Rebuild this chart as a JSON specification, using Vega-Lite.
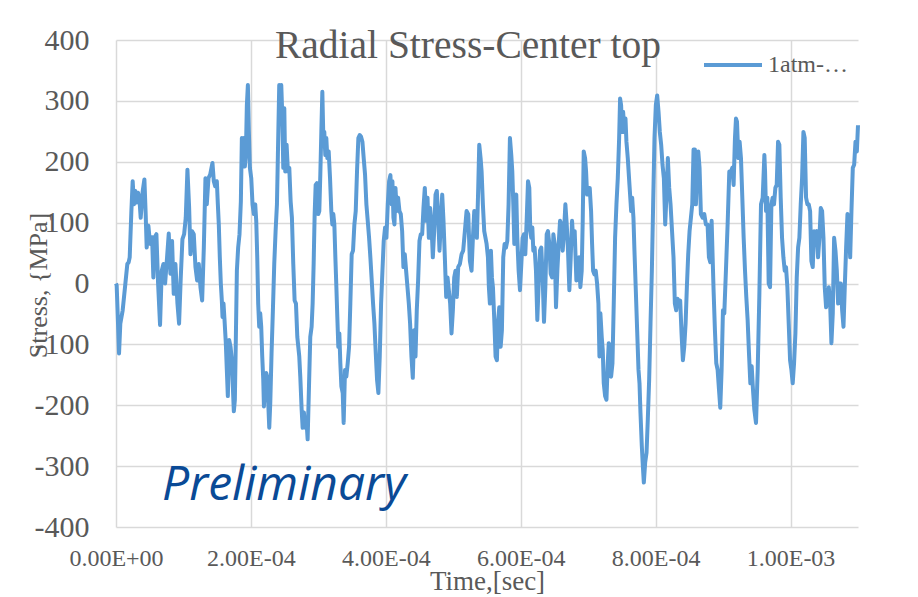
{
"$schema": "https://vega.github.io/schema/vega-lite/v6.json",
"width": 742, "height": 487,
"autosize": {"type": "none"},
"padding": {"left": 116, "top": 40, "right": 60, "bottom": 70},
"background": "white",
"config": {"view": {"stroke": null}, "font": "Liberation Serif"},
"title": {"text": "Radial Stress-Center top", "font": "Liberation Serif", "fontSize": 39.5, "fontWeight": "normal", "color": "#595959", "anchor": "middle", "frame": "group", "dx": -19, "offset": -72, "baseline": "alphabetic"},
"encoding": {
  "x": {"field": "t", "type": "quantitative", "scale": {"domain": [0, 0.0011], "nice": false, "zero": false},
    "axis": {"title": "Time,[sec]", "values": [0, 0.0002, 0.0004, 0.0006, 0.0008, 0.001],
      "labelExpr": "datum.value == 0 ? '0.00E+00' : datum.value < 0.00095 ? format(datum.value * 10000, '.2f') + 'E-04' : format(datum.value * 1000, '.2f') + 'E-03'",
      "grid": true, "gridColor": "#d9d9d9", "gridWidth": 1.5, "domain": false, "ticks": false, "tickSize": 0,
      "labelFont": "Liberation Serif", "labelFontSize": 24, "labelColor": "#595959", "labelPadding": 19, "labelFlush": false, "labelOverlap": false,
      "titleFont": "Liberation Serif", "titleFontSize": 27, "titleFontWeight": "normal", "titleColor": "#595959", "titleY": 62, "titleBaseline": "alphabetic"}},
  "y": {"field": "s", "type": "quantitative", "scale": {"domain": [-400, 400], "nice": false, "zero": false},
    "axis": {"title": "Stress, {MPa]", "values": [-400, -300, -200, -100, 0, 100, 200, 300, 400],
      "labelExpr": "datum.value < 0 ? '-' + abs(datum.value) : '' + datum.value",
      "grid": true, "gridColor": "#d9d9d9", "gridWidth": 1.5, "domain": false, "ticks": false, "tickSize": 0,
      "labelFont": "Liberation Serif", "labelFontSize": 30, "labelColor": "#595959", "labelPadding": 27, "labelFlush": false, "labelOverlap": false,
      "titleFont": "Liberation Serif", "titleFontSize": 26, "titleFontWeight": "normal", "titleColor": "#595959", "titleX": -78, "titleY": 245, "titleAlign": "center", "titleBaseline": "middle"}}
},
"layer": [
{
"data": {"values": [
{"t":0,"s":0},{"t":1.0e-6,"s":-3},{"t":3.0e-6,"s":-66},{"t":4.5e-6,"s":-115},{"t":6.4e-6,"s":-66},{"t":9.9e-6,"s":-44},{"t":13.9e-6,"s":0},{"t":16.8e-6,"s":32},{"t":18.8e-6,"s":35},{"t":20.3e-6,"s":43},{"t":22.8e-6,"s":119},{"t":24.7e-6,"s":168},{"t":26.7e-6,"s":130},{"t":28.7e-6,"s":152},{"t":30.7e-6,"s":133},{"t":32.7e-6,"s":149},{"t":34.6e-6,"s":141},{"t":36.6e-6,"s":108},{"t":39.6e-6,"s":152},{"t":42.1e-6,"s":171},{"t":44.0e-6,"s":114},{"t":45.5e-6,"s":59},{"t":48.0e-6,"s":95},{"t":50.5e-6,"s":65},{"t":53.5e-6,"s":76},{"t":55.4e-6,"s":10},{"t":57.4e-6,"s":76},{"t":59.9e-6,"s":81},{"t":62.4e-6,"s":0},{"t":65.3e-6,"s":-68},{"t":67.8e-6,"s":21},{"t":70.3e-6,"s":32},{"t":72.8e-6,"s":0},{"t":75.7e-6,"s":43},{"t":78.2e-6,"s":82},{"t":80.7e-6,"s":16},{"t":83.1e-6,"s":70},{"t":85.6e-6,"s":-17},{"t":88.1e-6,"s":32},{"t":91.1e-6,"s":-33},{"t":93.5e-6,"s":-66},{"t":96.0e-6,"s":10},{"t":98.5e-6,"s":73},{"t":101.0e-6,"s":81},{"t":103.4e-6,"s":108},{"t":105.9e-6,"s":187},{"t":108.4e-6,"s":125},{"t":110.4e-6,"s":48},{"t":112.8e-6,"s":86},{"t":115.3e-6,"s":81},{"t":117.8e-6,"s":27},{"t":120.3e-6,"s":5},{"t":122.7e-6,"s":32},{"t":125.2e-6,"s":-6},{"t":127.7e-6,"s":-28},{"t":130.2e-6,"s":59},{"t":132.6e-6,"s":173},
{"t":134.6e-6,"s":130},{"t":137.1e-6,"s":173},{"t":139.6e-6,"s":179},{"t":143.0e-6,"s":198},{"t":145.0e-6,"s":168},{"t":147.0e-6,"s":160},{"t":149.5e-6,"s":168},{"t":151.0e-6,"s":130},{"t":152.4e-6,"s":97},{"t":153.9e-6,"s":43},{"t":155.4e-6,"s":0},{"t":156.9e-6,"s":-28},{"t":157.9e-6,"s":-55},{"t":159.4e-6,"s":-33},{"t":160.9e-6,"s":-60},{"t":162.8e-6,"s":-98},{"t":164.3e-6,"s":-142},{"t":165.8e-6,"s":-185},{"t":167.8e-6,"s":-93},{"t":169.8e-6,"s":-104},{"t":171.7e-6,"s":-126},{"t":173.2e-6,"s":-169},{"t":174.7e-6,"s":-210},{"t":176.2e-6,"s":-191},{"t":177.7e-6,"s":-88},{"t":179.2e-6,"s":21},{"t":181.1e-6,"s":59},{"t":183.1e-6,"s":81},{"t":185.1e-6,"s":135},{"t":186.6e-6,"s":239},{"t":188.1e-6,"s":206},{"t":189.6e-6,"s":239},{"t":191.0e-6,"s":192},{"t":192.5e-6,"s":211},{"t":194.0e-6,"s":293},{"t":195.5e-6,"s":326},{"t":197.0e-6,"s":249},{"t":198.5e-6,"s":190},{"t":200.5e-6,"s":173},{"t":202.4e-6,"s":130},{"t":204.4e-6,"s":114},{"t":206.4e-6,"s":130},{"t":207.9e-6,"s":103},{"t":209.4e-6,"s":43},{"t":210.8e-6,"s":-33},{"t":212.3e-6,"s":-71},{"t":213.8e-6,"s":-49},{"t":215.3e-6,"s":-71},{"t":216.8e-6,"s":-120},{"t":218.3e-6,"s":-158},{"t":219.3e-6,"s":-202},{"t":220.7e-6,"s":-169},{"t":222.7e-6,"s":-147},{"t":224.2e-6,"s":-153},{"t":225.7e-6,"s":-196},{"t":227.2e-6,"s":-237},{"t":228.7e-6,"s":-196},{"t":230.6e-6,"s":-115},{"t":232.6e-6,"s":-44},{"t":234.6e-6,"s":32},{"t":236.6e-6,"s":86},{"t":238.6e-6,"s":130},{"t":240.0e-6,"s":211},{"t":242.0e-6,"s":326},{"t":243.5e-6,"s":298},{"t":245.0e-6,"s":326},{"t":246.5e-6,"s":277},{"t":248.0e-6,"s":190},{"t":249.5e-6,"s":288},{"t":250.9e-6,"s":184},{"t":252.9e-6,"s":228},{"t":254.9e-6,"s":184},{"t":256.9e-6,"s":190},{"t":258.9e-6,"s":135},{"t":260.8e-6,"s":108},{"t":262.8e-6,"s":32},{"t":264.8e-6,"s":-28},{"t":266.8e-6,"s":-33},{"t":268.8e-6,"s":-88},
{"t":271.7e-6,"s":-120},{"t":273.2e-6,"s":-153},{"t":275.2e-6,"s":-207},{"t":276.7e-6,"s":-237},{"t":278.6e-6,"s":-212},{"t":280.6e-6,"s":-237},{"t":282.6e-6,"s":-229},{"t":284.1e-6,"s":-256},{"t":286.1e-6,"s":-169},{"t":288.0e-6,"s":-88},{"t":290.0e-6,"s":-71},{"t":291.5e-6,"s":-33},{"t":293.0e-6,"s":32},{"t":294.5e-6,"s":114},{"t":296.0e-6,"s":162},{"t":297.9e-6,"s":165},{"t":299.9e-6,"s":114},{"t":301.4e-6,"s":119},{"t":302.9e-6,"s":179},{"t":304.4e-6,"s":249},{"t":305.9e-6,"s":315},{"t":307.4e-6,"s":239},{"t":308.8e-6,"s":249},{"t":310.3e-6,"s":211},{"t":311.8e-6,"s":239},{"t":313.3e-6,"s":206},{"t":315.3e-6,"s":217},{"t":317.3e-6,"s":173},{"t":319.2e-6,"s":119},{"t":320.7e-6,"s":97},{"t":322.2e-6,"s":114},{"t":323.7e-6,"s":97},{"t":325.2e-6,"s":43},{"t":326.7e-6,"s":-6},{"t":328.1e-6,"s":-55},{"t":329.6e-6,"s":-104},{"t":331.1e-6,"s":-82},{"t":332.6e-6,"s":-131},{"t":334.1e-6,"s":-169},{"t":336.1e-6,"s":-180},{"t":337.5e-6,"s":-229},{"t":339.5e-6,"s":-142},{"t":341.5e-6,"s":-153},{"t":343.5e-6,"s":-131},{"t":345.5e-6,"s":-104},{"t":347.4e-6,"s":-33},{"t":349.4e-6,"s":48},{"t":351.4e-6,"s":54},{"t":353.4e-6,"s":97},{"t":355.4e-6,"s":119},{"t":357.3e-6,"s":184},{"t":359.3e-6,"s":239},{"t":361.3e-6,"s":244},{"t":363.3e-6,"s":241},{"t":365.3e-6,"s":233},{"t":367.2e-6,"s":206},{"t":369.2e-6,"s":179},{"t":371.2e-6,"s":130},{"t":373.2e-6,"s":103},{"t":375.2e-6,"s":75},{"t":377.1e-6,"s":43},{"t":379.1e-6,"s":5},{"t":381.1e-6,"s":-33},{"t":383.1e-6,"s":-66},{"t":385.1e-6,"s":-115},{"t":387.0e-6,"s":-158},{"t":389.0e-6,"s":-180},{"t":391.0e-6,"s":-120},{"t":393.0e-6,"s":-33},{"t":395.0e-6,"s":21},{"t":396.9e-6,"s":70},{"t":398.9e-6,"s":92},{"t":400.9e-6,"s":75},{"t":402.9e-6,"s":130},{"t":404.9e-6,"s":168},{"t":406.8e-6,"s":178},{"t":408.8e-6,"s":130},
{"t":409.8e-6,"s":168},{"t":411.3e-6,"s":108},{"t":412.8e-6,"s":97},{"t":414.3e-6,"s":157},{"t":416.2e-6,"s":119},{"t":418.2e-6,"s":141},{"t":420.2e-6,"s":119},{"t":422.2e-6,"s":114},{"t":424.2e-6,"s":86},{"t":426.1e-6,"s":27},{"t":428.1e-6,"s":48},{"t":430.1e-6,"s":21},{"t":432.1e-6,"s":-6},{"t":434.1e-6,"s":-33},{"t":436.0e-6,"s":-66},{"t":438.0e-6,"s":-120},{"t":440.0e-6,"s":-155},{"t":442.0e-6,"s":-77},{"t":444.0e-6,"s":-120},{"t":445.9e-6,"s":-44},{"t":447.9e-6,"s":5},{"t":449.9e-6,"s":70},{"t":451.9e-6,"s":81},{"t":453.9e-6,"s":81},{"t":455.8e-6,"s":124},{"t":457.8e-6,"s":157},{"t":459.8e-6,"s":103},{"t":461.8e-6,"s":141},{"t":463.8e-6,"s":75},{"t":465.7e-6,"s":124},{"t":467.7e-6,"s":97},{"t":469.7e-6,"s":43},{"t":471.7e-6,"s":86},{"t":473.7e-6,"s":146},{"t":475.6e-6,"s":152},{"t":477.6e-6,"s":108},{"t":479.6e-6,"s":54},{"t":481.6e-6,"s":103},{"t":483.6e-6,"s":146},{"t":485.5e-6,"s":103},{"t":487.5e-6,"s":43},{"t":489.5e-6,"s":-22},{"t":491.5e-6,"s":10},{"t":493.4e-6,"s":-11},{"t":495.4e-6,"s":-33},{"t":497.4e-6,"s":-82},{"t":499.4e-6,"s":-44},{"t":501.4e-6,"s":10},{"t":503.3e-6,"s":21},{"t":505.3e-6,"s":-22},{"t":507.3e-6,"s":27},{"t":509.8e-6,"s":32},{"t":512.3e-6,"s":48},{"t":514.7e-6,"s":54},{"t":517.2e-6,"s":86},{"t":519.7e-6,"s":119},{"t":522.2e-6,"s":114},{"t":524.6e-6,"s":37},{"t":527.1e-6,"s":21},{"t":529.1e-6,"s":75},{"t":531.1e-6,"s":119},{"t":533.1e-6,"s":114},{"t":535.0e-6,"s":75},{"t":537.0e-6,"s":157},{"t":538.5e-6,"s":228},{"t":540.5e-6,"s":206},{"t":542.0e-6,"s":184},{"t":543.9e-6,"s":130},{"t":545.9e-6,"s":86},
{"t":549.4e-6,"s":65},{"t":551.4e-6,"s":43},{"t":552.8e-6,"s":-6},{"t":554.3e-6,"s":-33},{"t":555.8e-6,"s":54},{"t":557.3e-6,"s":10},{"t":558.8e-6,"s":-6},{"t":560.8e-6,"s":-60},{"t":562.7e-6,"s":-120},{"t":564.7e-6,"s":-126},{"t":566.2e-6,"s":-66},{"t":568.2e-6,"s":-39},{"t":570.2e-6,"s":-104},{"t":572.1e-6,"s":-77},{"t":574.1e-6,"s":43},{"t":576.1e-6,"s":65},{"t":578.1e-6,"s":59},{"t":580.1e-6,"s":70},{"t":582.0e-6,"s":130},{"t":584.0e-6,"s":239},{"t":586.0e-6,"s":211},{"t":587.5e-6,"s":184},{"t":589.0e-6,"s":130},{"t":590.5e-6,"s":65},{"t":591.9e-6,"s":141},{"t":593.4e-6,"s":146},{"t":594.9e-6,"s":75},{"t":596.9e-6,"s":21},{"t":598.9e-6,"s":-11},{"t":600.9e-6,"s":32},{"t":602.8e-6,"s":75},{"t":604.8e-6,"s":81},{"t":606.8e-6,"s":48},{"t":608.8e-6,"s":103},{"t":610.8e-6,"s":168},{"t":612.7e-6,"s":157},{"t":614.2e-6,"s":86},{"t":615.7e-6,"s":75},{"t":617.2e-6,"s":92},{"t":618.7e-6,"s":54},{"t":620.6e-6,"s":59},{"t":622.6e-6,"s":21},{"t":624.6e-6,"s":-60},{"t":626.6e-6,"s":0},{"t":628.6e-6,"s":54},{"t":630.5e-6,"s":59},{"t":632.5e-6,"s":10},{"t":634.5e-6,"s":-63},{"t":636.5e-6,"s":-6},{"t":638.5e-6,"s":81},{"t":640.4e-6,"s":86},{"t":642.4e-6,"s":65},{"t":644.4e-6,"s":16},{"t":646.4e-6,"s":10},{"t":648.4e-6,"s":81},{"t":650.3e-6,"s":65},{"t":652.3e-6,"s":-39},{"t":654.3e-6,"s":21},{"t":656.3e-6,"s":65},{"t":658.3e-6,"s":103},{"t":660.2e-6,"s":97},{"t":662.2e-6,"s":54},{"t":664.2e-6,"s":86},{"t":666.2e-6,"s":130},{"t":668.2e-6,"s":97},{"t":670.1e-6,"s":54},{"t":672.1e-6,"s":-11},{"t":674.1e-6,"s":43},{"t":676.1e-6,"s":103},{"t":678.1e-6,"s":65},{"t":680.0e-6,"s":86},{"t":682.5e-6,"s":5},{"t":685.0e-6,"s":21},
{"t":686.5e-6,"s":43},{"t":688.4e-6,"s":-6},{"t":690.4e-6,"s":21},{"t":691.9e-6,"s":103},{"t":693.4e-6,"s":217},{"t":695.4e-6,"s":206},{"t":696.9e-6,"s":184},{"t":698.4e-6,"s":146},{"t":700.3e-6,"s":157},{"t":702.3e-6,"s":157},{"t":704.3e-6,"s":119},{"t":705.8e-6,"s":65},{"t":707.3e-6,"s":21},{"t":709.2e-6,"s":15},{"t":711.2e-6,"s":21},{"t":713.2e-6,"s":0},{"t":715.2e-6,"s":-33},{"t":716.7e-6,"s":-120},{"t":718.1e-6,"s":-49},{"t":720.1e-6,"s":-88},{"t":721.6e-6,"s":-109},{"t":723.1e-6,"s":-164},{"t":725.1e-6,"s":-185},{"t":727.1e-6,"s":-191},{"t":729.0e-6,"s":-131},{"t":730.5e-6,"s":-98},{"t":732.5e-6,"s":-104},{"t":734.0e-6,"s":-153},{"t":736.0e-6,"s":-131},{"t":737.9e-6,"s":-33},{"t":739.9e-6,"s":75},{"t":741.9e-6,"s":130},{"t":743.9e-6,"s":173},{"t":745.9e-6,"s":239},{"t":747.3e-6,"s":304},{"t":748.8e-6,"s":293},{"t":750.3e-6,"s":249},{"t":751.8e-6,"s":282},{"t":753.8e-6,"s":249},{"t":755.3e-6,"s":271},{"t":756.7e-6,"s":233},{"t":758.7e-6,"s":206},{"t":761.2e-6,"s":162},{"t":763.7e-6,"s":119},{"t":765.2e-6,"s":141},{"t":767.1e-6,"s":108},{"t":768.6e-6,"s":54},{"t":770.6e-6,"s":-11},{"t":772.6e-6,"s":-77},{"t":774.6e-6,"s":-142},{"t":776.1e-6,"s":-164},{"t":777.5e-6,"s":-212},{"t":779.5e-6,"s":-267},{"t":781.0e-6,"s":-299},{"t":782.5e-6,"s":-327},{"t":784.5e-6,"s":-294},{"t":786.5e-6,"s":-278},{"t":788.4e-6,"s":-223},{"t":790.4e-6,"s":-158},{"t":792.4e-6,"s":-66},{"t":794.4e-6,"s":21},{"t":796.3e-6,"s":130},{"t":798.3e-6,"s":239},{"t":800.3e-6,"s":293},{"t":802.3e-6,"s":309},{"t":804.3e-6,"s":282},{"t":806.2e-6,"s":249},{"t":808.2e-6,"s":228},{"t":810.2e-6,"s":195},{"t":812.2e-6,"s":173},{"t":814.2e-6,"s":97},{"t":816.1e-6,"s":146},{"t":818.1e-6,"s":206},{"t":820.1e-6,"s":157},{"t":822.1e-6,"s":130},
{"t":826.5e-6,"s":43},{"t":828.5e-6,"s":-33},{"t":830.5e-6,"s":-44},{"t":832.5e-6,"s":-25},{"t":834.5e-6,"s":-33},{"t":836.4e-6,"s":-28},{"t":838.4e-6,"s":-82},{"t":840.4e-6,"s":-126},{"t":842.4e-6,"s":-104},{"t":844.4e-6,"s":-66},{"t":846.3e-6,"s":-6},{"t":848.3e-6,"s":48},{"t":850.3e-6,"s":86},{"t":852.3e-6,"s":108},{"t":854.3e-6,"s":130},{"t":856.2e-6,"s":220},{"t":858.2e-6,"s":220},{"t":859.7e-6,"s":130},{"t":861.2e-6,"s":184},{"t":863.2e-6,"s":217},{"t":865.1e-6,"s":190},{"t":867.1e-6,"s":114},{"t":869.6e-6,"s":108},{"t":872.1e-6,"s":114},{"t":874.5e-6,"s":97},{"t":877.0e-6,"s":97},{"t":879.0e-6,"s":43},{"t":881.0e-6,"s":35},{"t":883.0e-6,"s":103},{"t":884.5e-6,"s":43},{"t":885.9e-6,"s":-11},{"t":887.9e-6,"s":-77},{"t":889.9e-6,"s":-131},{"t":891.9e-6,"s":-142},{"t":893.9e-6,"s":-174},{"t":895.8e-6,"s":-204},{"t":897.8e-6,"s":-142},{"t":899.8e-6,"s":-44},{"t":901.8e-6,"s":-49},{"t":904.2e-6,"s":21},{"t":906.7e-6,"s":97},{"t":909.2e-6,"s":184},{"t":911.7e-6,"s":184},{"t":913.6e-6,"s":190},{"t":915.6e-6,"s":162},{"t":917.6e-6,"s":239},{"t":919.1e-6,"s":271},{"t":920.6e-6,"s":266},{"t":922.6e-6,"s":206},{"t":924.5e-6,"s":233},{"t":926.5e-6,"s":206},{"t":928.5e-6,"s":141},{"t":930.5e-6,"s":75},{"t":932.5e-6,"s":21},{"t":934.4e-6,"s":-22},{"t":936.4e-6,"s":-60},{"t":938.4e-6,"s":-115},{"t":940.4e-6,"s":-164},{"t":942.4e-6,"s":-136},{"t":944.3e-6,"s":-174},{"t":946.3e-6,"s":-207},{"t":948.8e-6,"s":-229},{"t":951.3e-6,"s":-142},{"t":953.7e-6,"s":-22},{"t":956.2e-6,"s":130},{"t":958.7e-6,"s":141},{"t":961.2e-6,"s":211},
{"t":962.2e-6,"s":184},{"t":963.6e-6,"s":119},{"t":965.6e-6,"s":141},{"t":967.6e-6,"s":0},{"t":969.6e-6,"s":-6},{"t":971.6e-6,"s":130},{"t":973.5e-6,"s":141},{"t":975.5e-6,"s":130},{"t":977.5e-6,"s":157},{"t":979.5e-6,"s":162},{"t":981.5e-6,"s":233},{"t":983.4e-6,"s":228},{"t":985.4e-6,"s":141},{"t":987.4e-6,"s":75},{"t":989.4e-6,"s":43},{"t":991.4e-6,"s":21},{"t":993.3e-6,"s":27},{"t":995.3e-6,"s":-6},{"t":997.3e-6,"s":-66},{"t":999.3e-6,"s":-126},{"t":1001.3e-6,"s":-142},{"t":1003.2e-6,"s":-164},{"t":1005.2e-6,"s":-131},{"t":1007.2e-6,"s":-82},{"t":1009.2e-6,"s":10},{"t":1011.2e-6,"s":59},{"t":1013.1e-6,"s":75},{"t":1015.1e-6,"s":130},{"t":1017.1e-6,"s":173},{"t":1019.1e-6,"s":249},{"t":1021.0e-6,"s":239},{"t":1023.0e-6,"s":141},{"t":1025.0e-6,"s":130},{"t":1027.0e-6,"s":130},{"t":1029.0e-6,"s":119},{"t":1030.9e-6,"s":37},{"t":1032.9e-6,"s":27},{"t":1034.9e-6,"s":86},{"t":1036.9e-6,"s":75},{"t":1038.9e-6,"s":86},{"t":1040.8e-6,"s":43},{"t":1042.8e-6,"s":75},{"t":1044.8e-6,"s":124},{"t":1046.8e-6,"s":119},{"t":1048.8e-6,"s":75},{"t":1050.7e-6,"s":-6},{"t":1052.7e-6,"s":-39},{"t":1054.7e-6,"s":-22},{"t":1056.7e-6,"s":-6},{"t":1058.7e-6,"s":-33},{"t":1060.6e-6,"s":-98},{"t":1062.6e-6,"s":-49},{"t":1064.6e-6,"s":75},{"t":1066.6e-6,"s":54},{"t":1068.6e-6,"s":21},{"t":1070.5e-6,"s":-33},{"t":1072.5e-6,"s":0},{"t":1074.5e-6,"s":0},{"t":1076.5e-6,"s":-44},{"t":1078.5e-6,"s":-71},{"t":1080.4e-6,"s":-6},{"t":1082.4e-6,"s":59},{"t":1084.4e-6,"s":114},{"t":1086.4e-6,"s":97},{"t":1088.4e-6,"s":43},{"t":1090.3e-6,"s":119},{"t":1092.3e-6,"s":190},{"t":1094.3e-6,"s":195},{"t":1096.3e-6,"s":233},{"t":1098.3e-6,"s":217},{"t":1100.0e-6,"s":260}
]},
"mark": {"type": "line", "strokeWidth": 4, "strokeJoin": "round"},
"encoding": {
  "color": {"datum": "1atm-…", "type": "nominal", "scale": {"range": ["#5b9bd5"]},
    "legend": {"orient": "none", "legendX": 586, "legendY": -6, "title": null, "symbolType": "stroke", "symbolStrokeWidth": 4, "symbolSize": 3364, "labelFont": "Liberation Serif", "labelFontSize": 24, "labelColor": "#595959", "labelOffset": 4, "padding": 0, "labelLimit": 200}}
}
},
{
"data": {"values": [{"t": 68.3e-6, "s": -355, "label": "Preliminary"}]},
"mark": {"type": "text", "font": "Open Sans", "fontStyle": "italic", "fontSize": 48, "color": "#0a4a96", "align": "left", "baseline": "alphabetic"},
"encoding": {"text": {"field": "label"}}
}
]
}
